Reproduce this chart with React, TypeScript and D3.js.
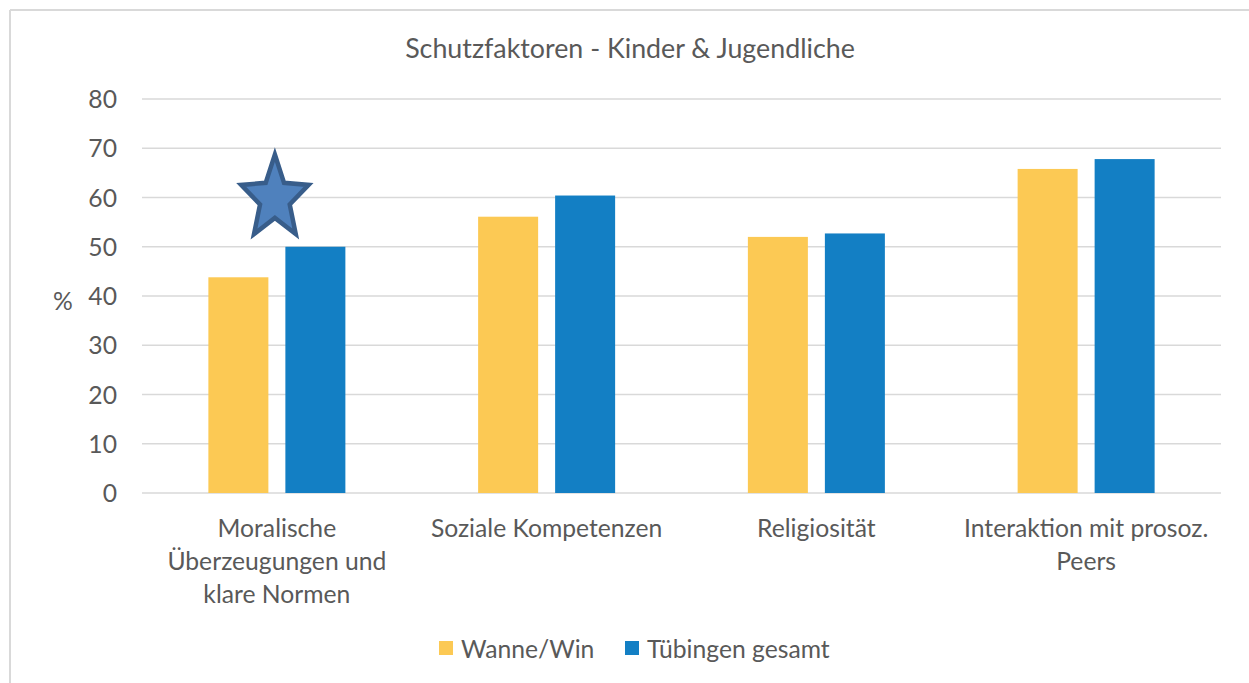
import React from "react";
import * as d3 from "d3";

const categories: string[][] = [
  ["Moralische", "Überzeugungen und", "klare Normen"],
  ["Soziale Kompetenzen"],
  ["Religiosität"],
  ["Interaktion mit prosoz.", "Peers"],
];
const seriesNames = ["Wanne/Win", "Tübingen gesamt"];
const wanneValues = [43.8, 56.1, 52.0, 65.8];
const tuebingenValues = [50.0, 60.4, 52.7, 67.8];
const yTicks = [0, 10, 20, 30, 40, 50, 60, 70, 80];
const starValue = 60; // star annotation next to first category
const colors = ["#FCC954", "#137FC4"];

const W = 1249;
const H = 683;
const FONT = "Lato, 'Open Sans', sans-serif";
const TEXT = "#595959";
const LABEL = 24.7;
const TITLE = 26.8;

export default function App() {
  const left = 142, right = 1221, top = 99, bottom = 493;
  const x = d3.scaleBand<number>().domain(d3.range(categories.length)).range([left, right]);
  const y = d3.scaleLinear().domain([0, 80]).range([bottom, top]);
  const barW = 60;
  const gap = 17;
  const series = [wanneValues, tuebingenValues];

  // star
  const cx0 = (x(0) as number) + x.bandwidth() / 2 - 2;
  const cy0 = y(starValue) + 1;
  const rx = 35.5, ry = 44;
  const pts: [number, number][] = [];
  for (let i = 0; i < 10; i++) {
    const a = (Math.PI / 5) * i - Math.PI / 2;
    const r = i % 2 === 0 ? 1 : 0.44;
    pts.push([cx0 + Math.cos(a) * rx * r, cy0 + Math.sin(a) * ry * r]);
  }
  const starPath = d3.line()(pts) + "Z";

  return (
    <div style={{ position: "absolute", left: 0, top: 0 }}>
      <svg width={W} height={H} style={{ display: "block", fontFamily: FONT }}>
        <rect x={0} y={0} width={W} height={H} fill="#fff" />
        <line x1={10} y1={10} x2={W} y2={10} stroke="#d9d9d9" strokeWidth={2} />
        <line x1={10} y1={10} x2={10} y2={H} stroke="#d9d9d9" strokeWidth={2} />
        <text x={630} y={58} textAnchor="middle" fontSize={TITLE} fill={TEXT}>
          Schutzfaktoren - Kinder &amp; Jugendliche
        </text>
        {yTicks.map((t) => (
          <g key={t}>
            <line x1={left} x2={right} y1={y(t)} y2={y(t)} stroke="#d9d9d9" strokeWidth={1.5} />
            <text x={117} y={y(t) + 9} textAnchor="end" fontSize={LABEL} fill={TEXT}>
              {t}
            </text>
          </g>
        ))}
        <text x={63} y={310} textAnchor="middle" fontSize={LABEL} fill={TEXT}>%</text>
        {categories.map((c, i) => {
          const cx = (x(i) as number) + x.bandwidth() / 2;
          return (
            <g key={i}>
              {series.map((s, j) => {
                const bx = j === 0 ? cx - gap / 2 - barW : cx + gap / 2;
                return (
                  <rect key={j} x={bx} y={y(s[i])} width={barW} height={y(0) - y(s[i])} fill={colors[j]} />
                );
              })}
              {c.map((line, k) => (
                <text key={k} x={cx} y={537 + k * 33} textAnchor="middle" fontSize={LABEL} fill={TEXT}>
                  {line}
                </text>
              ))}
            </g>
          );
        })}
        <path d={starPath} fill="#4F81BD" stroke="#385D8A" strokeWidth={4.5} strokeLinejoin="miter" />
        {seriesNames.map((n, j) => {
          const lx = j === 0 ? 439 : 625;
          return (
            <g key={n}>
              <rect x={lx} y={641} width={14} height={14} fill={colors[j]} />
              <text x={lx + 22} y={658} fontSize={LABEL} fill={TEXT}>{n}</text>
            </g>
          );
        })}
      </svg>
    </div>
  );
}
